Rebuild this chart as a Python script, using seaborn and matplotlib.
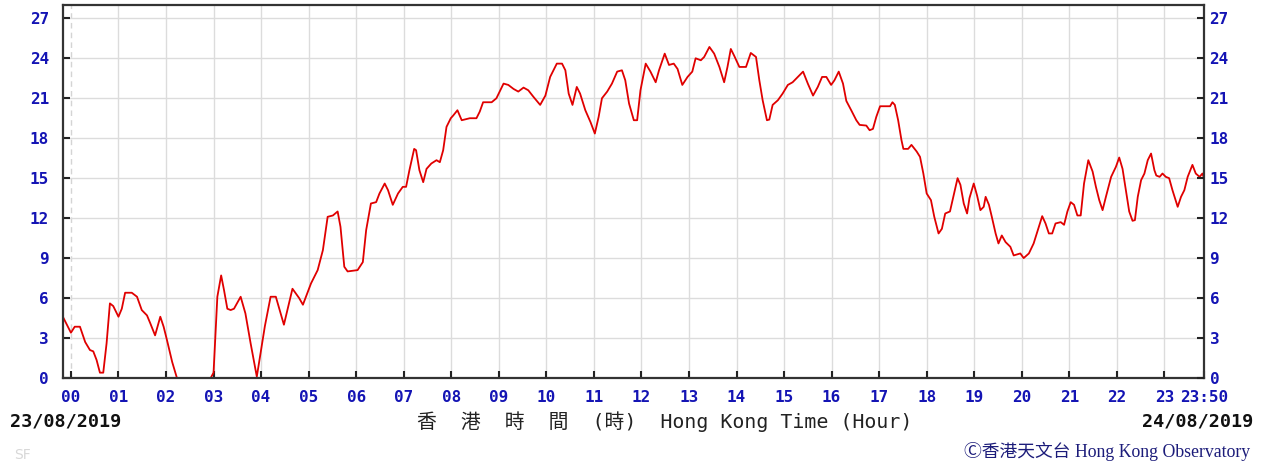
import matplotlib

matplotlib.use("Agg")
import matplotlib.pyplot as plt
import pandas as pd
import seaborn as sns

# 10-min mean wind speed readings, hours since 00:00 on 23/08/2019
hours = [
    -0.17, 0.0, 0.08, 0.19, 0.3, 0.4, 0.47, 0.54, 0.61, 0.68, 0.75, 0.82, 0.89,
    1.0, 1.07, 1.14, 1.28, 1.39, 1.49, 1.6, 1.67, 1.77, 1.88, 1.95,
    2.02, 2.13, 2.23, 2.94, 3.0, 3.08, 3.16, 3.22, 3.29, 3.36, 3.43, 3.57, 3.67,
    3.78, 3.91, 3.99, 4.08, 4.2, 4.31, 4.48, 4.66, 4.8, 4.88, 5.05, 5.19, 5.3,
    5.4, 5.51, 5.61, 5.67, 5.75, 5.82, 6.03, 6.14, 6.21, 6.31, 6.42, 6.49, 6.6,
    6.67, 6.77, 6.88, 6.98, 7.05, 7.12, 7.22, 7.26, 7.33, 7.41, 7.48, 7.58,
    7.69, 7.76, 7.83, 7.9, 7.99, 8.04, 8.13, 8.22, 8.39, 8.53, 8.6, 8.67, 8.85,
    8.95, 9.1, 9.2, 9.31, 9.41, 9.52, 9.62, 9.73, 9.87, 9.98, 10.08, 10.22,
    10.33, 10.4, 10.47, 10.55, 10.64, 10.71, 10.82, 10.93, 11.02, 11.1, 11.17,
    11.28, 11.38, 11.49, 11.59, 11.66, 11.74, 11.84, 11.91, 11.98, 12.09, 12.19,
    12.3, 12.37, 12.49, 12.58, 12.68, 12.76, 12.86, 12.97, 13.07, 13.14, 13.25,
    13.32, 13.43, 13.53, 13.64, 13.74, 13.81, 13.88, 13.95, 14.06, 14.2, 14.3,
    14.41, 14.48, 14.55, 14.64, 14.69, 14.76, 14.87, 14.97, 15.08, 15.18, 15.29,
    15.4, 15.5, 15.61, 15.71, 15.8, 15.89, 15.99, 16.06, 16.15, 16.24, 16.31,
    16.42, 16.52, 16.59, 16.73, 16.8, 16.87, 16.94, 17.02, 17.23, 17.28, 17.33,
    17.4, 17.47, 17.51, 17.61, 17.68, 17.79, 17.86, 17.93, 18.0, 18.09, 18.16,
    18.25, 18.32, 18.39, 18.49, 18.56, 18.65, 18.71, 18.78, 18.85, 18.9, 18.99,
    19.06, 19.13, 19.2, 19.24, 19.31, 19.37, 19.45, 19.51, 19.58, 19.66, 19.76,
    19.83, 19.97, 20.04, 20.15, 20.25, 20.36, 20.43, 20.5, 20.57, 20.64, 20.71,
    20.82, 20.89, 20.96, 21.03, 21.1, 21.17, 21.24, 21.31, 21.4, 21.49, 21.56,
    21.63, 21.7, 21.77, 21.88, 21.98, 22.05, 22.12, 22.19, 22.26, 22.33, 22.38,
    22.44, 22.51, 22.58, 22.65, 22.72, 22.79, 22.83, 22.9, 22.96, 23.03, 23.1,
    23.17, 23.28, 23.35, 23.42, 23.49, 23.59, 23.66, 23.74, 23.8, 23.83,
]
speed = [
    4.6, 3.4, 3.85, 3.85, 2.7, 2.1, 2.0, 1.35, 0.4, 0.4, 2.6, 5.6, 5.4,
    4.6, 5.2, 6.4, 6.4, 6.1, 5.1, 4.7, 4.1, 3.2, 4.6, 3.85,
    2.85, 1.2, 0.0, 0.0, 0.4, 6.1, 7.7, 6.6, 5.2, 5.1, 5.2, 6.1, 4.85,
    2.6, 0.1, 1.9, 3.9, 6.1, 6.1, 4.0, 6.7, 6.0, 5.5, 7.1, 8.1, 9.6,
    12.1, 12.2, 12.5, 11.35, 8.35, 8.0, 8.1, 8.7, 11.1, 13.1, 13.2, 13.85, 14.6,
    14.1, 13.0, 13.85, 14.35, 14.35, 15.6, 17.2, 17.1, 15.6, 14.7, 15.7, 16.1,
    16.35, 16.2, 17.1, 18.85, 19.5, 19.7, 20.1, 19.35, 19.5, 19.5, 20.0, 20.7, 20.7,
    21.0, 22.1, 22.0, 21.7, 21.5, 21.8, 21.6, 21.1, 20.5, 21.2, 22.6, 23.6,
    23.6, 23.1, 21.35, 20.5, 21.85, 21.35, 20.1, 19.2, 18.35, 19.6, 21.0,
    21.5, 22.1, 23.0, 23.1, 22.35, 20.6, 19.35, 19.35, 21.6, 23.6, 23.0,
    22.2, 23.1, 24.35, 23.5, 23.6, 23.2, 22.0, 22.6, 23.0, 24.0, 23.85,
    24.1, 24.85, 24.35, 23.35, 22.2, 23.35, 24.7, 24.2, 23.35, 23.35, 24.4,
    24.1, 22.35, 20.85, 19.35, 19.4, 20.5, 20.85, 21.35, 22.0, 22.2, 22.6,
    23.0, 22.1, 21.2, 21.85, 22.6, 22.6, 22.0, 22.35, 23.0, 22.1, 20.8,
    20.05, 19.35, 19.0, 18.95, 18.6, 18.7, 19.6, 20.4, 20.4, 20.7, 20.5,
    19.35, 17.85, 17.2, 17.2, 17.5, 17.0, 16.6, 15.35, 13.85, 13.35, 12.1,
    10.85, 11.2, 12.35, 12.5, 13.6, 15.0, 14.5, 13.1, 12.35, 13.5, 14.6,
    13.7, 12.6, 12.85, 13.6, 13.0, 12.1, 10.85, 10.1, 10.7, 10.2, 9.85,
    9.2, 9.35, 9.0, 9.35, 10.1, 11.35, 12.15, 11.6, 10.85, 10.85, 11.6,
    11.7, 11.5, 12.5, 13.2, 13.0, 12.2, 12.2, 14.6, 16.35, 15.5, 14.35,
    13.35, 12.6, 13.6, 15.1, 15.85, 16.55, 15.7, 14.1, 12.5, 11.8, 11.85,
    13.6, 14.85, 15.35, 16.35, 16.85, 15.6, 15.2, 15.1, 15.35, 15.1, 15.0,
    14.1, 12.85, 13.6, 14.1, 15.1, 16.0, 15.35, 15.1, 15.35, 15.05,
]

x_ticks = list(range(24)) + [23 + 50 / 60]
x_labels = [f"{h:02d}" for h in range(24)] + ["23:50"]
y_ticks = list(range(0, 28, 3))

W, H = 1267, 468
tick_blue = "#1414b4"
mono = "DejaVu Sans Mono"

sns.set_style("white")
plt.rcParams["font.family"] = ["DejaVu Sans", "Noto Sans CJK TC"]

df = pd.DataFrame({"hour": hours, "speed": speed})

fig = plt.figure(figsize=(W / 100, H / 100), dpi=100)
ax = fig.add_axes([63 / W, 1 - 378 / H, (1204 - 63) / W, (378 - 5) / H])

sns.lineplot(data=df, x="hour", y="speed", ax=ax, color="#e00000",
             linewidth=1.3, estimator=None, sort=False)

ax.set_xlim(-10 / 60, 23 + 50 / 60)
ax.set_ylim(0, 28)
ax.set_xlabel("")
ax.set_ylabel("")

# grid
for h in range(1, 24):
    ax.axvline(h, color="#dcdcdc", lw=1, zorder=0)
ax.axvline(0, color="#d4d4d4", lw=1, ls=(0, (4, 3)), zorder=0)
for v in y_ticks[1:]:
    ax.axhline(v, color="#dcdcdc", lw=1, zorder=0)

for s in ax.spines.values():
    s.set_color("#333333")
    s.set_linewidth(1.6)

ax.set_xticks(x_ticks)
ax.set_xticklabels(x_labels)
ax.set_yticks(y_ticks)
ax.tick_params(axis="x", direction="in", length=5, width=1.5, pad=9,
               colors="#222222", labelcolor=tick_blue, bottom=True)
ax.tick_params(axis="y", direction="in", length=5, width=1.5, pad=10,
               colors="#222222", labelcolor=tick_blue, left=True)
for lab in ax.get_xticklabels() + ax.get_yticklabels():
    lab.set_fontfamily(mono)
    lab.set_fontweight("bold")
    lab.set_fontsize(11.5)

ax2 = ax.twinx()
ax2.set_ylim(0, 28)
ax2.set_yticks(y_ticks)
ax2.tick_params(axis="y", direction="in", length=5, width=1.5, pad=4,
                colors="#222222", labelcolor=tick_blue, right=True)
for lab in ax2.get_yticklabels():
    lab.set_fontfamily(mono)
    lab.set_fontweight("bold")
    lab.set_fontsize(11.5)
for s in ax2.spines.values():
    s.set_visible(False)

# texts below the axes
fig.text(10 / W, 1 - 422 / H, "23/08/2019", family=mono, weight="bold",
         fontsize=13.3, color="#111111", ha="left", va="center")
fig.text(1253 / W, 1 - 422 / H, "24/08/2019", family=mono, weight="bold",
         fontsize=13.3, color="#111111", ha="right", va="center")
fig.text(665 / W, 1 - 422 / H, "香  港  時  間  (時)  Hong Kong Time (Hour)",
         family=[mono, "Noto Sans CJK TC"], fontsize=14.3, color="#222222",
         ha="center", va="center")
fig.text(1250 / W, 1 - 451 / H, "Ⓒ香港天文台 Hong Kong Observatory",
         family=["Liberation Serif", "Noto Sans CJK TC", "DejaVu Sans"],
         fontsize=12.8, color="#1c1c7a", ha="right", va="center")
fig.text(14 / W, 1 - 455 / H, "SF", fontsize=10, color="#d8d8d8",
         ha="left", va="center")

fig.savefig("out.png", dpi=100)
